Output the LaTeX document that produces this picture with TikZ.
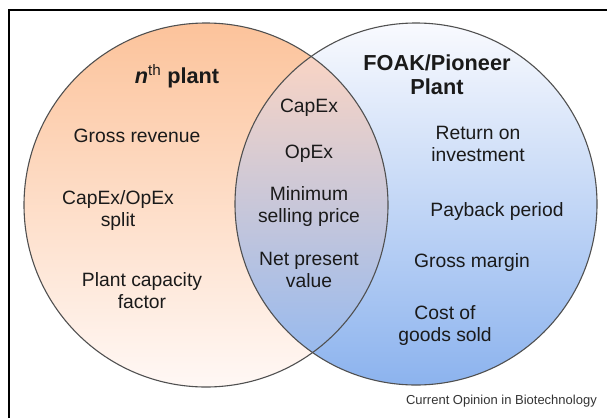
\documentclass[tikz,border=0pt]{standalone}
\usepackage{fontspec}
\setmainfont{Liberation Sans}
\definecolor{nthtop}{HTML}{FCC39B}
\definecolor{nthbot}{HTML}{FFF8F5}
\definecolor{foaktop}{HTML}{F9FAFE}
\definecolor{foakbot}{HTML}{8CB3EE}
\definecolor{bothtop}{HTML}{F9D4C4}
\definecolor{bothbot}{HTML}{98BAEE}
\definecolor{rim}{HTML}{505050}
\definecolor{ink}{HTML}{1A1A1A}
\begin{document}
\begin{tikzpicture}[x=1pt,y=-1pt,
    item/.style={align=center,inner sep=0pt,text=ink,
      font=\fontsize{19.3}{22}\selectfont},
    title/.style={align=center,inner sep=0pt,text=ink,
      font=\fontsize{21.7}{24}\selectfont\bfseries}]
  \useasboundingbox (0,0) rectangle (607,418);
  \draw [line width=1.4] (9,418) -- (9,10) -- (607,10);

  \shade [top color=nthtop,bottom color=nthbot] (206,205) circle [radius=182];
  \shade [top color=foaktop,bottom color=foakbot] (416,204) circle [radius=181];
  \begin{scope}
    \clip (206,205) circle [radius=182];
    \clip (416,204) circle [radius=181];
    \shade [top color=bothtop,bottom color=bothbot] (225,56) rectangle (395,353);
  \end{scope}
  \draw [rim,line width=1.1] (206,205) circle [radius=182];
  \draw [rim,line width=1.1] (416,204) circle [radius=181];

  \node [title] (nth) at (177,76) {\textit{n}\textsuperscript{\mdseries th} plant};
  \node [item] (revenue) at (137,136) {Gross revenue};
  \node [item] (split) at (118,211) {CapEx/OpEx\\split};
  \node [item] (capacity) at (142,291) {Plant capacity\\factor};

  \node [title] (foak) at (437,75) {FOAK/Pioneer\\Plant};
  \node [item] (roi) at (478,144) {Return on\\investment};
  \node [item] (payback) at (497,212) {Payback period};
  \node [item] (margin) at (472,263) {Gross margin};
  \node [item] (cogs) at (445,326) {Cost of\\goods sold};

  \node [item] (capex) at (309,108) {CapEx};
  \node [item] (opex) at (309,154) {OpEx};
  \node [item] (msp) at (309,207) {Minimum\\selling price};
  \node [item] (npv) at (309,270) {Net present\\value};

  \node [anchor=east,inner sep=0pt,text=black!80,
    font=\fontsize{13}{15}\selectfont] (credit) at (597,401)
    {Current Opinion in Biotechnology};
\end{tikzpicture}
\end{document}
